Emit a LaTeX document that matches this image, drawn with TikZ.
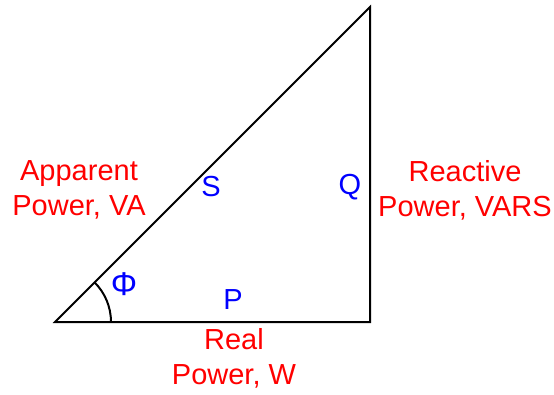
\documentclass[tikz,border=0pt]{standalone}
\usepackage{fontspec}
\setmainfont{Liberation Sans}
\begin{document}
\begin{tikzpicture}[x=1pt,y=-1pt,
  lbl/.style={text=red,font=\fontsize{29}{35}\selectfont,align=center,inner sep=0pt},
  sym/.style={text=blue,font=\fontsize{29}{35}\selectfont,inner sep=0pt},
  side/.style={line width=2pt,line join=miter}]
\useasboundingbox (0,0) rectangle (554,395);
\coordinate (A) at (55,322);
\coordinate (B) at (370,322);
\coordinate (C) at (370,7);
\draw[side] (A) -- (B) -- (C) -- cycle;
\draw[line width=2pt] (111,322) arc[start angle=0,end angle=-45,radius=56];
\node[lbl] (app) at (79,190) {Apparent\\Power, VA};
\node[lbl] (rea) at (465,190) {Reactive\\Power, VARS};
\node[lbl] (real) at (234,358) {Real\\Power, W};
\node[sym] (S) at (211,187) {S};
\node[sym] (Q) at (350,187) {Q};
\node[sym,font=\fontsize{33}{35}\selectfont] (phi) at (124,284) {Φ};
\node[sym] (P) at (233,300) {P};
\end{tikzpicture}
\end{document}
